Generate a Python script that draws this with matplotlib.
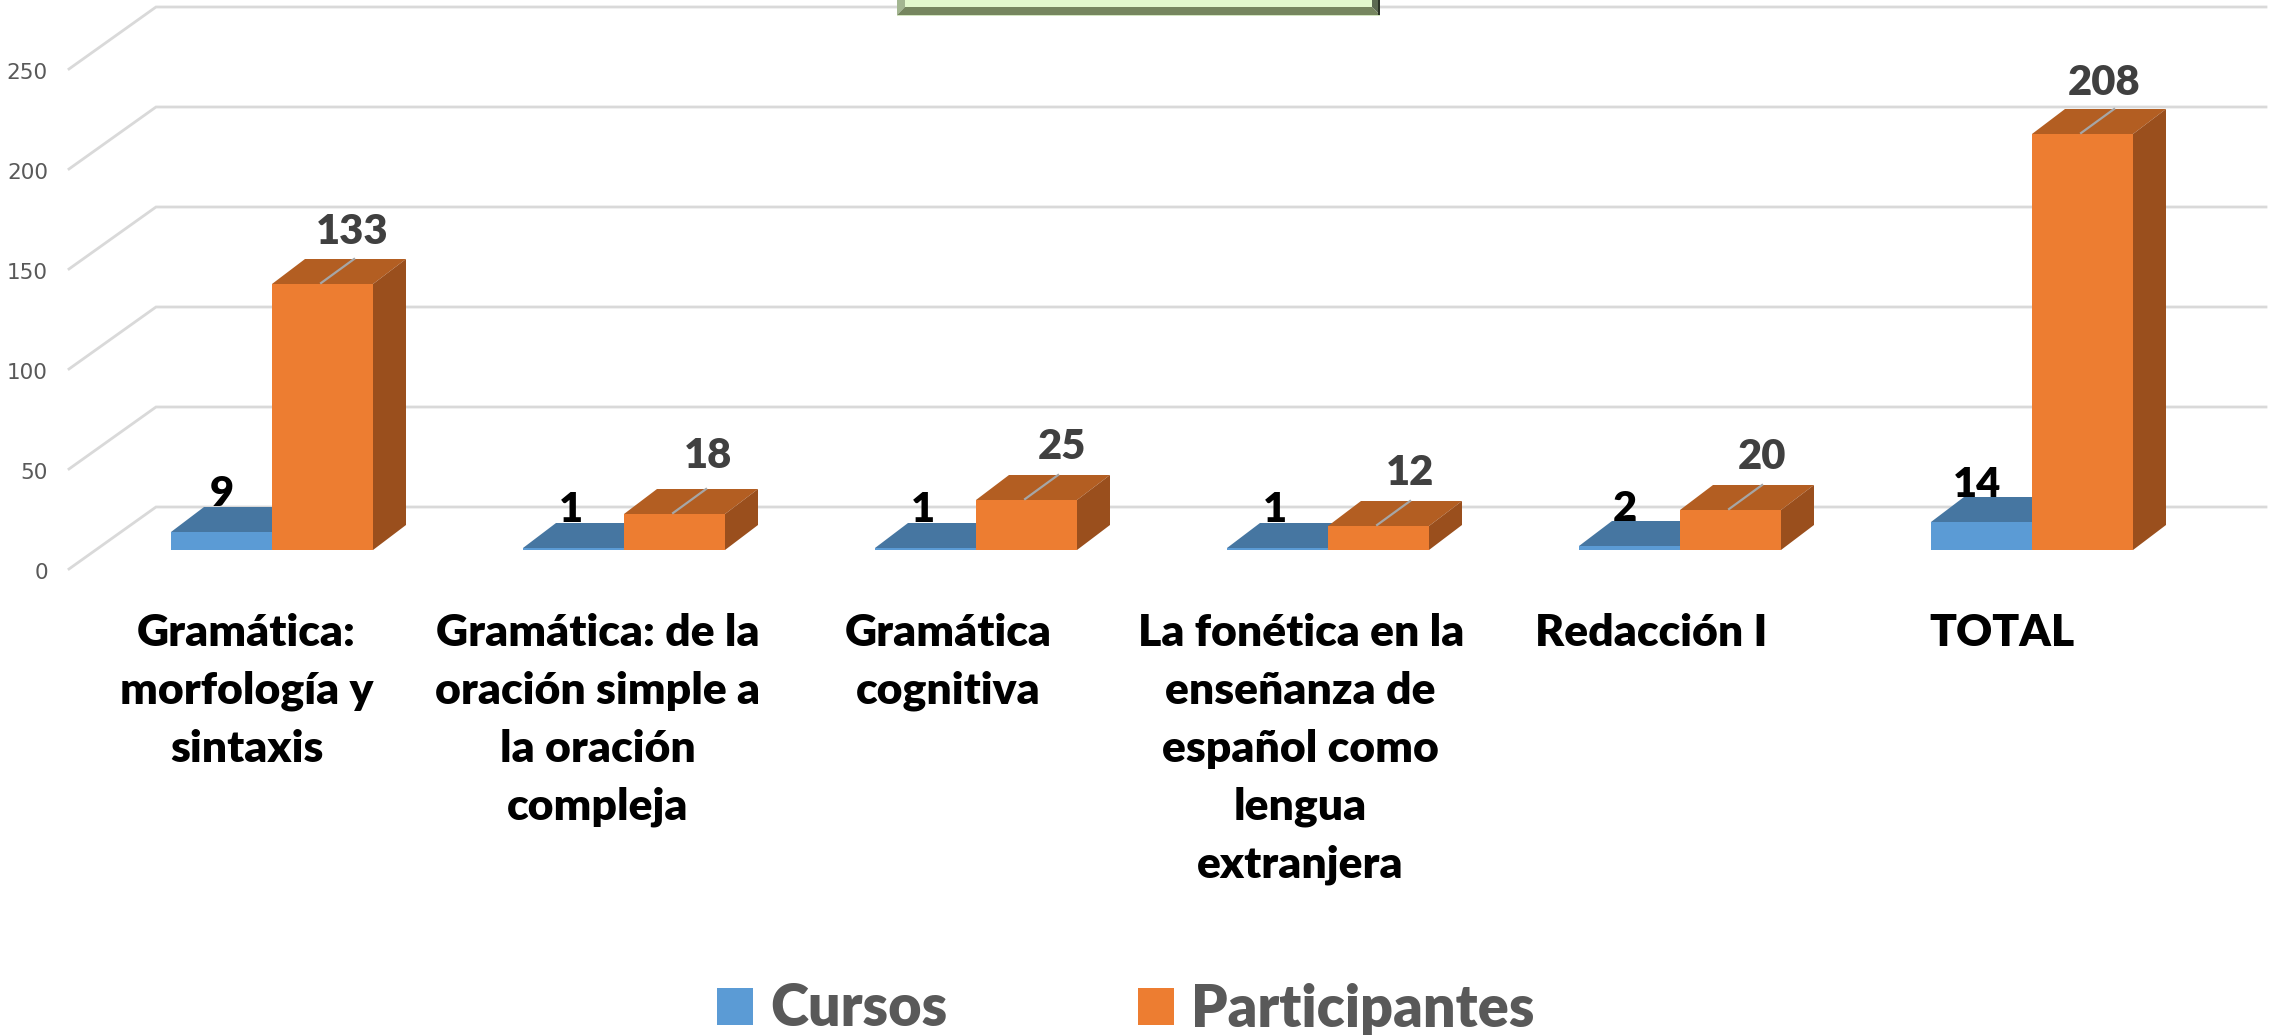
import matplotlib
matplotlib.use("Agg")
import matplotlib.pyplot as plt
from matplotlib.patches import Polygon, Rectangle

categories = ["Gramática:\nmorfología y\nsintaxis",
              "Gramática: de la\noración simple a\nla oración\ncompleja",
              "Gramática\ncognitiva",
              "La fonética en la\nenseñanza de\nespañol como\nlengua\nextranjera",
              "Redacción I",
              "TOTAL"]
cursos = [9, 1, 1, 1, 2, 14]
participantes = [133, 18, 25, 12, 20, 208]
y_ticks = [0, 50, 100, 150, 200, 250]
series_names = ["Cursos", "Participantes"]

W, H = 2270, 1035
PX_X = 352.0      # pixels per category
PX_Y = 2.0        # pixels per unit
X0 = 272.0        # pixel of first category boundary
Y0 = 550.0        # pixel of value 0 at bar front

fig = plt.figure(figsize=(W / 100, H / 100), dpi=100, facecolor="white")
ax = fig.add_axes([0, 0, 1, 1])
ax.set_xlim(-X0 / PX_X, (W - X0) / PX_X)
ax.set_ylim((Y0 - H) / PX_Y, Y0 / PX_Y)
ax.axis("off")


def px(x):
    return (x - X0) / PX_X


def py(y):
    return (Y0 - y) / PX_Y


BLUE, BLUE_TOP = "#5B9BD5", "#4676A1"
ORANGE, ORANGE_TOP, ORANGE_SIDE = "#ED7D31", "#B35E22", "#9A4F1D"
GRID = "#D9D9D9"
DX = 33 / PX_X    # bar depth in x
DY = 25 / PX_Y    # bar depth in y
BW = 101 / PX_X   # bar width

# walls
back_off, front_off = 21.5, -9.5
for v in y_ticks:
    ax.plot([px(69), px(156), px(2266)], [v + front_off, v + back_off, v + back_off],
            color=GRID, lw=2.0, zorder=1, solid_joinstyle="miter")
    ax.text(px(48), v + front_off - 2, str(v), ha="right", va="center",
            fontsize=15.5, color="#595959", family="DejaVu Sans")

# bars
bars_c = ax.bar([i - BW / 2 for i in range(6)], cursos, width=BW, color=BLUE, zorder=3,
                label=series_names[0])
for i, (c, p) in enumerate(zip(cursos, participantes)):
    l = i - BW
    ax.add_patch(Polygon([(l, c), (l + DX, c + DY), (l + BW + DX, c + DY), (l + BW, c)],
                         closed=True, fc=BLUE_TOP, ec="none", zorder=2.5))
    ax.add_patch(Polygon([(i, p), (i + DX, p + DY), (i + BW + DX, p + DY), (i + BW, p)],
                         closed=True, fc=ORANGE_TOP, ec="none", zorder=4))
    ax.add_patch(Polygon([(i + BW, 0), (i + BW + DX, DY), (i + BW + DX, p + DY), (i + BW, p)],
                         closed=True, fc=ORANGE_SIDE, ec="none", zorder=4))
    # leader line
    ax.plot([i + BW / 2 - 0.004, i + BW / 2 + DX - 0.004], [p + 0.5, p + DY],
            color="#A6A6A6", lw=1.6, zorder=6)
bars_p = ax.bar([i + BW / 2 for i in range(6)], participantes, width=BW, color=ORANGE, zorder=5,
                label=series_names[1])

# data labels (offsets)
c_off_x = [-0.143, -0.150, -0.150, -0.150, -0.156, -0.156]
c_off_y = [19, 19, 19, 19, 18.7, 18.3]
p_off_x = [0.227, 0.239, 0.243, 0.234, 0.233, 0.206]
p_off_y = [26.2, 29, 26.3, 26.3, 26.3, 25.5]
for i in range(6):
    ax.text(i + c_off_x[i], cursos[i] + c_off_y[i], str(cursos[i]), ha="center", va="center",
            fontsize=30, fontweight="heavy", color="black", family="Lato", zorder=7)
    ax.text(i + p_off_x[i], participantes[i] + p_off_y[i], str(participantes[i]), ha="center",
            va="center", fontsize=30, fontweight="heavy", color="#404040", family="Lato", zorder=7)

# category labels
label_x = [-0.072, -0.0745, -0.0775, -0.0775, -0.0825, -0.085]
for i, lab in enumerate(categories):
    ax.text(i + label_x[i], py(613), lab, ha="center", va="top", fontsize=32,
            fontweight="heavy", color="black", family="Lato", linespacing=1.54, zorder=7)

# green bevelled box, cropped by the top of the picture
top = 20
ax.add_patch(Polygon([(px(897), py(-top)), (px(905), py(-top)), (px(905), py(7)), (px(897), py(15))],
                     closed=True, fc="#A3B691", ec="none", zorder=8))
ax.add_patch(Polygon([(px(1380), py(-top)), (px(1372), py(-top)), (px(1372), py(7)), (px(1380), py(15))],
                     closed=True, fc="#5C6A52", ec="none", zorder=8))
ax.add_patch(Polygon([(px(897), py(15)), (px(1380), py(15)), (px(1372), py(7)), (px(905), py(7))],
                     closed=True, fc="#76865F", ec="none", zorder=8))
ax.add_patch(Rectangle((px(905), py(7)), px(1372) - px(905), (top + 7) / PX_Y,
                       fc="#E2F8CC", ec="none", zorder=8))
ax.add_patch(Rectangle((px(897), py(16)), px(1380) - px(897), 1 / PX_Y,
                       fc="#D3E6C0", ec="none", zorder=8))
ax.add_patch(Rectangle((px(1378), py(15)), 2 / PX_X, (top + 15) / PX_Y,
                       fc="#2B3327", ec="none", zorder=9))

# legend
ax.legend(handles=[bars_c[0], bars_p[0]], labels=series_names, ncol=2, frameon=False,
          loc="center", bbox_to_anchor=(1126 / W, 1 - 1009 / H),
          prop={"family": "Lato", "weight": "heavy", "size": 41.5}, labelcolor="#595959",
          handlelength=0.62, handleheight=0.62, handletextpad=0.3, columnspacing=3.3)

fig.savefig("out.png", dpi=100, facecolor="white")
